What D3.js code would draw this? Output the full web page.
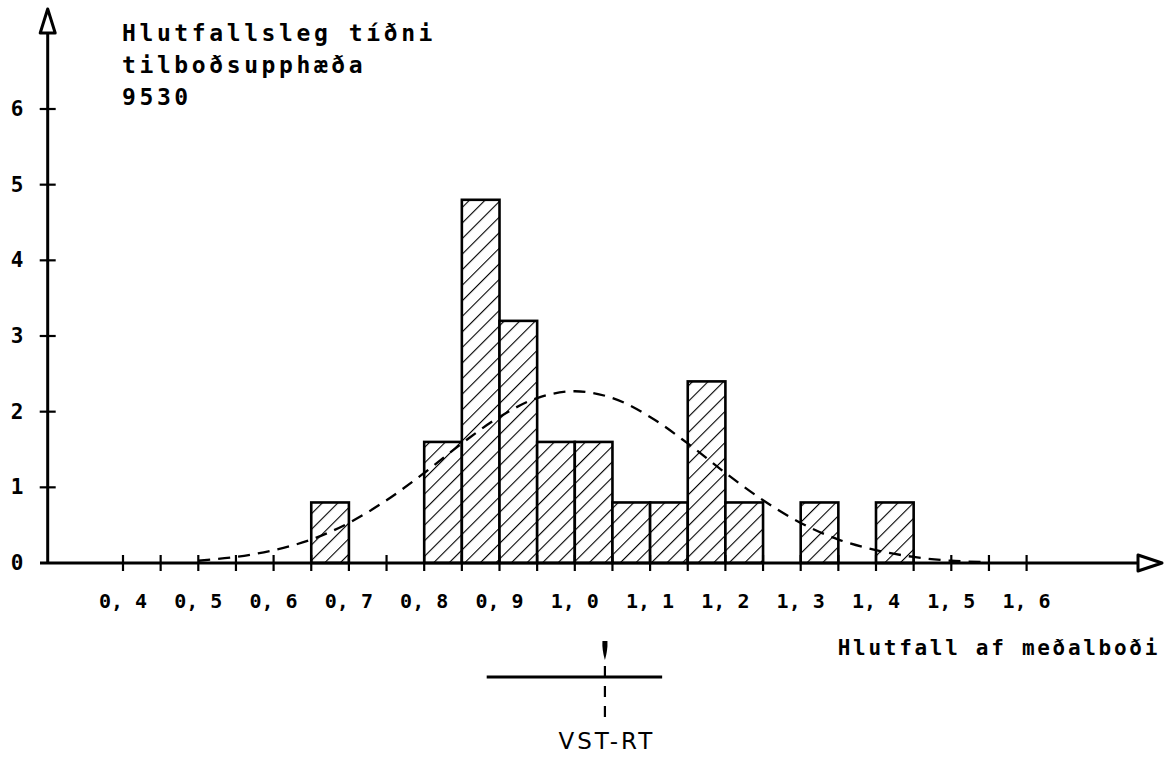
<!DOCTYPE html>
<html>
<head>
<meta charset="utf-8">
<script src="https://cdn.jsdelivr.net/npm/d3@7"></script>
<style>
  body { margin: 0; background: #fff; }
  svg { display: block; }
  text { font-family: "DejaVu Sans Mono", monospace; fill: #000; font-weight: bold; }
</style>
</head>
<body>
<div id="chart"></div>
<script>
// bin start values (width 0.05) and relative frequency heights
const binStarts = [0.65, 0.80, 0.85, 0.90, 0.95, 1.00, 1.05, 1.10, 1.15, 1.20, 1.30, 1.40]
const binHeights = [0.8, 1.6, 4.8, 3.2, 1.6, 1.6, 0.8, 0.8, 2.4, 0.8, 0.8, 0.8]
const binWidth = 0.05

// dashed fitted curve
const curveX = [0.50, 0.55, 0.60, 0.65, 0.70, 0.75, 0.80, 0.85, 0.90, 0.95, 1.00,
                1.05, 1.10, 1.15, 1.20, 1.25, 1.30, 1.35, 1.40, 1.45, 1.50, 1.55]
const curveY = [0.03, 0.08, 0.17, 0.31, 0.53, 0.83, 1.19, 1.58, 1.93, 2.18, 2.27,
                2.18, 1.93, 1.58, 1.19, 0.83, 0.53, 0.31, 0.17, 0.08, 0.03, 0.01]

const xTickLabels = ['0, 4', '0, 5', '0, 6', '0, 7', '0, 8', '0, 9', '1, 0',
                     '1, 1', '1, 2', '1, 3', '1, 4', '1, 5', '1, 6']
const yTickLabels = ['0', '1', '2', '3', '4', '5', '6']

const titleLines = ['Hlutfallsleg tíðni', 'tilboðsupphæða', '9530']
const xTitle = 'Hlutfall af meðalboði'

// VST-RT marker: value and range bar
const vstValue = 1.04
const vstRange = [0.883, 1.116]
const vstLabel = 'VST-RT'

window.onload = function() {

  const width = 1166
  const height = 757

  const svg = d3.select('#chart')
                .append('svg')
                  .attr('width', width)
                  .attr('height', height)

  const x = d3.scaleLinear().domain([0.4, 1.6]).range([123, 1026.6])
  const y = d3.scaleLinear().domain([0, 6]).range([563, 109])

  const x0 = x(0.3)   // where the vertical axis sits
  const y0 = y(0)

  // hatch pattern for bars
  const hs = 11
  const defs = svg.append('defs')
  const pat = defs.append('pattern')
    .attr('id', 'hatch')
    .attr('patternUnits', 'userSpaceOnUse')
    .attr('width', hs)
    .attr('height', hs)
    .attr('patternTransform', 'rotate(45)')
  pat.append('rect').attr('width', hs).attr('height', hs).attr('fill', '#fff')
  pat.append('line')
    .attr('x1', 0).attr('y1', 0).attr('x2', 0).attr('y2', hs)
    .attr('stroke', '#000').attr('stroke-width', 2.2)

  // bars
  svg.append('g')
    .selectAll('rect')
    .data(binStarts)
    .join('rect')
      .attr('x', d => x(d))
      .attr('y', (d, i) => y(binHeights[i]))
      .attr('width', d => x(d + binWidth) - x(d))
      .attr('height', (d, i) => y0 - y(binHeights[i]))
      .attr('fill', 'url(#hatch)')
      .attr('stroke', '#000')
      .attr('stroke-width', 2.6)

  // dashed curve
  const line = d3.line()
    .x((d, i) => x(curveX[i]))
    .y(d => y(d))
    .curve(d3.curveCatmullRom)
  svg.append('path')
    .datum(curveY)
    .attr('d', line)
    .attr('fill', 'none')
    .attr('stroke', '#000')
    .attr('stroke-width', 2.3)
    .attr('stroke-dasharray', '12,8')

  // axes lines
  const tipX = 1162
  const tipY = 9
  svg.append('line')
    .attr('x1', 40).attr('y1', y0).attr('x2', tipX - 22).attr('y2', y0)
    .attr('stroke', '#000').attr('stroke-width', 3)
  svg.append('line')
    .attr('x1', x0).attr('y1', y0).attr('x2', x0).attr('y2', tipY + 22)
    .attr('stroke', '#000').attr('stroke-width', 3)

  // open arrowheads
  svg.append('path')
    .attr('d', `M${tipX},${y0} L${tipX - 24},${y0 - 8} L${tipX - 24},${y0 + 8} Z`)
    .attr('fill', '#fff').attr('stroke', '#000').attr('stroke-width', 3)
    .attr('stroke-linejoin', 'round')
  svg.append('path')
    .attr('d', `M${x0},${tipY} L${x0 - 7.5},${tipY + 24} L${x0 + 7.5},${tipY + 24} Z`)
    .attr('fill', '#fff').attr('stroke', '#000').attr('stroke-width', 3)
    .attr('stroke-linejoin', 'round')

  // x ticks (crosses) every 0.05
  const xTicks = d3.range(0, 25).map(i => 0.4 + i * 0.05)
  svg.append('g')
    .selectAll('line')
    .data(xTicks)
    .join('line')
      .attr('x1', d => x(d)).attr('x2', d => x(d))
      .attr('y1', y0 - 8).attr('y2', y0 + 8)
      .attr('stroke', '#000').attr('stroke-width', 2.2)

  // x tick labels
  svg.append('g')
    .selectAll('text')
    .data(xTickLabels)
    .join('text')
      .attr('x', (d, i) => x(0.4 + i * 0.1))
      .attr('y', 608)
      .attr('text-anchor', 'middle')
      .attr('font-size', 20)
      .text(d => d)

  // y ticks
  svg.append('g')
    .selectAll('line')
    .data(d3.range(1, 7))
    .join('line')
      .attr('x1', x0 - 8).attr('x2', x0 + 8)
      .attr('y1', d => y(d)).attr('y2', d => y(d))
      .attr('stroke', '#000').attr('stroke-width', 2.2)

  svg.append('g')
    .selectAll('text')
    .data(yTickLabels)
    .join('text')
      .attr('x', 17)
      .attr('y', (d, i) => y(i) + 7)
      .attr('text-anchor', 'middle')
      .attr('font-size', 21)
      .text(d => d)

  // title block
  svg.append('g')
    .selectAll('text')
    .data(titleLines)
    .join('text')
      .attr('x', 122)
      .attr('y', (d, i) => 41 + i * 32)
      .attr('font-size', 23)
      .attr('letter-spacing', 3.6)
      .text(d => d)

  // x-axis title
  svg.append('text')
    .attr('x', 1160)
    .attr('y', 655)
    .attr('text-anchor', 'end')
    .attr('font-size', 21)
    .attr('letter-spacing', 2.7)
    .text(xTitle)

  // VST-RT marker
  const vx = x(vstValue)
  const barY = 677
  svg.append('line')
    .attr('x1', x(vstRange[0])).attr('x2', x(vstRange[1]))
    .attr('y1', barY).attr('y2', barY)
    .attr('stroke', '#000').attr('stroke-width', 2.8)
  svg.append('path')
    .attr('d', `M${vx - 2.5},${641} Q${vx - 3},${650} ${vx},${660} Q${vx + 3},${650} ${vx + 2.5},${641} Z`)
    .attr('fill', '#000')
  svg.append('line')
    .attr('x1', vx).attr('x2', vx)
    .attr('y1', 666).attr('y2', 718)
    .attr('stroke', '#000').attr('stroke-width', 2.2)
    .attr('stroke-dasharray', '11,9')
  svg.append('text')
    .attr('x', vx + 2)
    .attr('y', 749)
    .attr('text-anchor', 'middle')
    .style('font-family', '"DejaVu Sans", sans-serif')
    .style('font-weight', 'normal')
    .style('font-size', '23px')
    .style('letter-spacing', '3px')
    .text(vstLabel)
};
</script>
</body>
</html>
